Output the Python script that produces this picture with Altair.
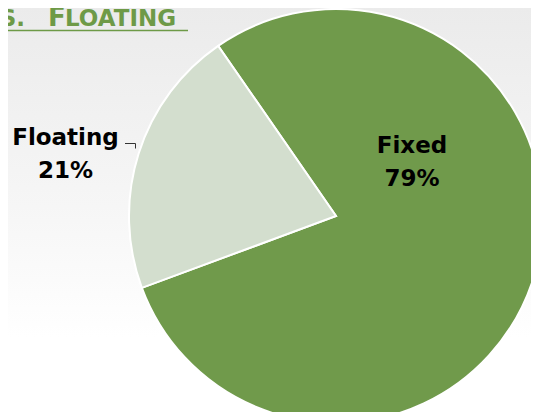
import math
import altair as alt
import pandas as pd

# ---- data ----
categories = ["Fixed", "Floating"]
shares = [79, 21]
slice_colors = ["#709a4b", "#d3dece"]
title_small_left = "VS."
title_cap = "F"
title_small_right = "LOATING"

# ---- layout / style constants ----
W, H = 523, 404
CX, CY, R = 328, 208, 207
START = math.radians(325.3)
GREEN_TXT = "#6e9a47"
FONT = "DejaVu Sans"
TB = 18  # title baseline

df = pd.DataFrame({"category": categories, "share": shares})
base = alt.Chart(df)
one = alt.Chart(pd.DataFrame({"a": [0]}))

bg = one.mark_rect(
    color=alt.LinearGradient(
        gradient="linear",
        stops=[alt.GradientStop(color="#ebebeb", offset=0),
               alt.GradientStop(color="#f6f6f6", offset=0.6),
               alt.GradientStop(color="#ffffff", offset=1)],
        x1=0, x2=0, y1=0, y2=1,
    )
).encode(x=alt.value(0), x2=alt.value(W), y=alt.value(0), y2=alt.value(330))

pie = base.mark_arc(radius=R, stroke="white", strokeWidth=2).encode(
    theta=alt.Theta("share:Q", stack=True,
                    scale=alt.Scale(range=[START, START + 2 * math.pi])),
    color=alt.Color("category:N",
                    scale=alt.Scale(domain=categories, range=slice_colors),
                    legend=None),
    order=alt.Order("category:N", sort="ascending"),
    x=alt.value(CX),
    y=alt.value(CY),
)

labels = base.transform_calculate(
    label=alt.datum.category + "\n" + alt.datum.share + "%"
)

label_style = dict(font=FONT, fontWeight="bold", fontSize=23, lineBreak="\n",
                   lineHeight=33, align="center", baseline="alphabetic",
                   color="black")

fixed_lbl = labels.transform_filter(alt.datum.category == "Fixed").mark_text(
    **label_style).encode(text="label:N", x=alt.value(404), y=alt.value(145))
float_lbl = labels.transform_filter(alt.datum.category == "Floating").mark_text(
    **label_style).encode(text="label:N", x=alt.value(57.5), y=alt.value(137))

lead_h = one.mark_rule(color="#333333", strokeWidth=1).encode(
    x=alt.value(117), x2=alt.value(127.5), y=alt.value(135.5))
lead_v = one.mark_rule(color="#333333", strokeWidth=1).encode(
    x=alt.value(127.5), y=alt.value(135.5), y2=alt.value(140.5))

t1 = one.mark_text(font=FONT, fontWeight="bold", fontSize=23, align="right",
                   baseline="alphabetic", color=GREEN_TXT).encode(
    text=alt.value(title_small_left), x=alt.value(17), y=alt.value(TB))
t2 = one.mark_text(font=FONT, fontWeight="bold", fontSize=26, align="left",
                   baseline="alphabetic", color=GREEN_TXT).encode(
    text=alt.value(title_cap), x=alt.value(40), y=alt.value(TB))
t3 = one.mark_text(font=FONT, fontWeight="bold", fontSize=23, align="left",
                   baseline="alphabetic", color=GREEN_TXT).encode(
    text=alt.value(title_small_right), x=alt.value(57), y=alt.value(TB))
uline = one.mark_rule(color=GREEN_TXT, strokeWidth=1.6).encode(
    x=alt.value(0), x2=alt.value(180), y=alt.value(TB + 4.5))

chart = alt.layer(bg, pie, fixed_lbl, float_lbl, lead_h, lead_v,
                  t1, t2, t3, uline).properties(
    width=W, height=H, padding=0, autosize="none", background="white"
).configure_view(stroke=None)

chart.save("out.html", embed_options={"renderer": "svg", "actions": False})
